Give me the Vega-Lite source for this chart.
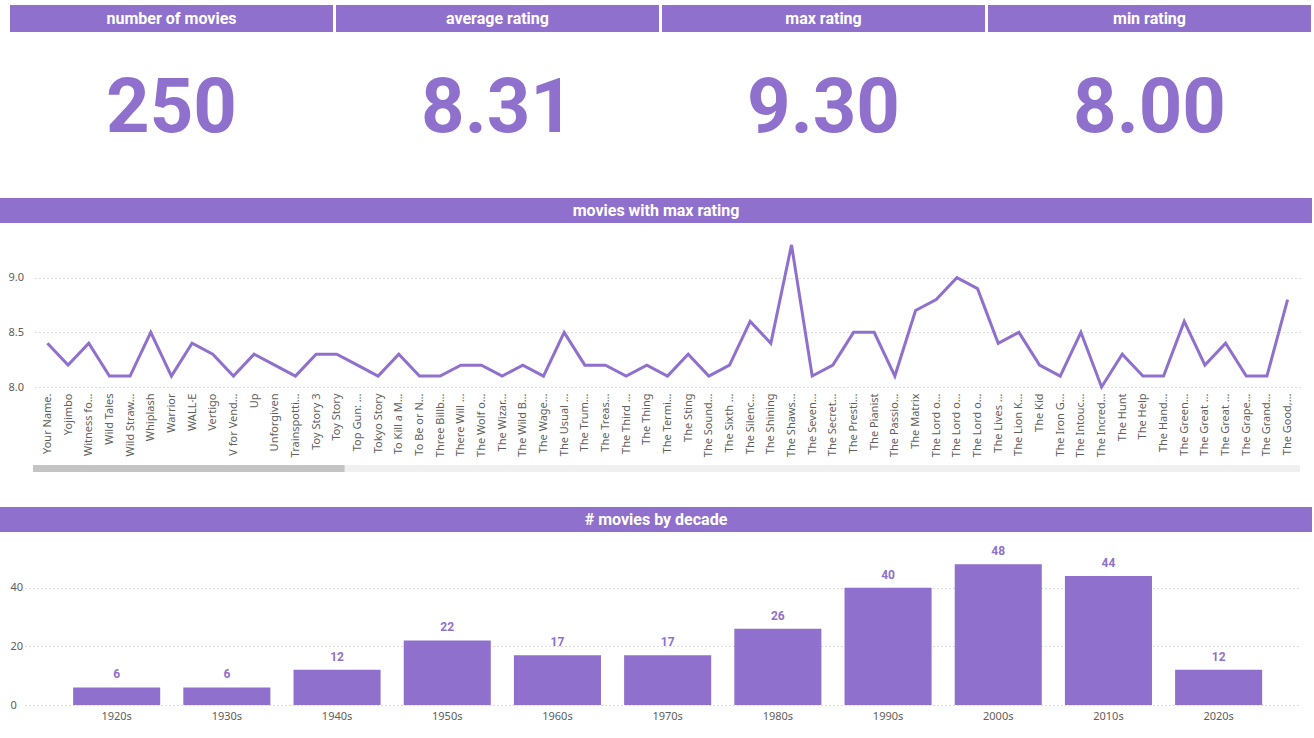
{
  "$schema": "https://vega.github.io/schema/vega-lite/v6.json",
  "background": "white",
  "padding": {"left": 0, "top": 5, "right": 0, "bottom": 0},
  "align": "none",
  "spacing": 0,
  "config": {
    "view": {"stroke": null},
    "font": "Noto Sans",
    "axis": {"labelColor": "#605E5C", "labelFontSize": 11, "ticks": false, "domain": false, "gridColor": "#BEBBB8", "gridDash": [1, 3]}
  },
  "datasets": {
    "kpi": [
      {"title": "number of movies", "value": 250},
      {"title": "average rating", "value": 8.31},
      {"title": "max rating", "value": 9.30},
      {"title": "min rating", "value": 8.00}
    ],
    "sections": [
      {"name": "movies with max rating"},
      {"name": "# movies by decade"}
    ],
    "scroll": [{"from": 0, "to": 15}],
    "movies": [
      {"title": "Your Name.", "rating": 8.4},
      {"title": "Yojimbo", "rating": 8.2},
      {"title": "Witness for the Prosecution", "rating": 8.4},
      {"title": "Wild Tales", "rating": 8.1},
      {"title": "Wild Strawberries", "rating": 8.1},
      {"title": "Whiplash", "rating": 8.5},
      {"title": "Warrior", "rating": 8.1},
      {"title": "WALL·E", "rating": 8.4},
      {"title": "Vertigo", "rating": 8.3},
      {"title": "V for Vendetta", "rating": 8.1},
      {"title": "Up", "rating": 8.3},
      {"title": "Unforgiven", "rating": 8.2},
      {"title": "Trainspotting", "rating": 8.1},
      {"title": "Toy Story 3", "rating": 8.3},
      {"title": "Toy Story", "rating": 8.3},
      {"title": "Top Gun: Maverick", "rating": 8.2},
      {"title": "Tokyo Story", "rating": 8.1},
      {"title": "To Kill a Mockingbird", "rating": 8.3},
      {"title": "To Be or Not to Be", "rating": 8.1},
      {"title": "Three Billboards Outside Ebbing, Missouri", "rating": 8.1},
      {"title": "There Will Be Blood", "rating": 8.2},
      {"title": "The Wolf of Wall Street", "rating": 8.2},
      {"title": "The Wizard of Oz", "rating": 8.1},
      {"title": "The Wild Bunch", "rating": 8.2},
      {"title": "The Wages of Fear", "rating": 8.1},
      {"title": "The Usual Suspects", "rating": 8.5},
      {"title": "The Truman Show", "rating": 8.2},
      {"title": "The Treasure of the Sierra Madre", "rating": 8.2},
      {"title": "The Third Man", "rating": 8.1},
      {"title": "The Thing", "rating": 8.2},
      {"title": "The Terminator", "rating": 8.1},
      {"title": "The Sting", "rating": 8.3},
      {"title": "The Sound of Music", "rating": 8.1},
      {"title": "The Sixth Sense", "rating": 8.2},
      {"title": "The Silence of the Lambs", "rating": 8.6},
      {"title": "The Shining", "rating": 8.4},
      {"title": "The Shawshank Redemption", "rating": 9.3},
      {"title": "The Seventh Seal", "rating": 8.1},
      {"title": "The Secret in Their Eyes", "rating": 8.2},
      {"title": "The Prestige", "rating": 8.5},
      {"title": "The Pianist", "rating": 8.5},
      {"title": "The Passion of Joan of Arc", "rating": 8.1},
      {"title": "The Matrix", "rating": 8.7},
      {"title": "The Lord of the Rings: The Two Towers", "rating": 8.8},
      {"title": "The Lord of the Rings: The Return of the King", "rating": 9.0},
      {"title": "The Lord of the Rings: The Fellowship of the Ring", "rating": 8.9},
      {"title": "The Lives of Others", "rating": 8.4},
      {"title": "The Lion King", "rating": 8.5},
      {"title": "The Kid", "rating": 8.2},
      {"title": "The Iron Giant", "rating": 8.1},
      {"title": "The Intouchables", "rating": 8.5},
      {"title": "The Incredibles", "rating": 8.0},
      {"title": "The Hunt", "rating": 8.3},
      {"title": "The Help", "rating": 8.1},
      {"title": "The Handmaiden", "rating": 8.1},
      {"title": "The Green Mile", "rating": 8.6},
      {"title": "The Great Escape", "rating": 8.2},
      {"title": "The Great Dictator", "rating": 8.4},
      {"title": "The Grapes of Wrath", "rating": 8.1},
      {"title": "The Grand Budapest Hotel", "rating": 8.1},
      {"title": "The Good, the Bad and the Ugly", "rating": 8.8}
    ],
    "decades": [
      {"decade": "1920s", "count": 6},
      {"decade": "1930s", "count": 6},
      {"decade": "1940s", "count": 12},
      {"decade": "1950s", "count": 22},
      {"decade": "1960s", "count": 17},
      {"decade": "1970s", "count": 17},
      {"decade": "1980s", "count": 26},
      {"decade": "1990s", "count": 40},
      {"decade": "2000s", "count": 48},
      {"decade": "2010s", "count": 44},
      {"decade": "2020s", "count": 12}
    ]
  },
  "vconcat": [
    {
      "spacing": 3,
      "hconcat": [
        {"width": 7, "height": 1, "view": {"fill": "white", "stroke": null}, "data": {"values": []}, "mark": "text"},
        {
          "spacing": 0,
          "vconcat": [
            {"width": 323, "height": 27, "view": {"fill": "#8F70CC", "stroke": null}, "data": {"name": "kpi"}, "transform": [{"filter": "datum.title == 'number of movies'"}],
             "mark": {"type": "text", "color": "white", "font": "Roboto", "fontWeight": "bold", "fontSize": 16}, "encoding": {"text": {"field": "title"}}},
            {"width": 323, "height": 166, "data": {"name": "kpi"}, "transform": [{"filter": "datum.title == 'number of movies'"}],
             "mark": {"type": "text", "color": "#8F70CC", "font": "Roboto", "fontWeight": "bold", "fontSize": 76, "dy": -6}, "encoding": {"text": {"field": "value", "type": "quantitative", "format": "d"}}}
          ]
        },
        {
          "spacing": 0,
          "vconcat": [
            {"width": 323, "height": 27, "view": {"fill": "#8F70CC", "stroke": null}, "data": {"name": "kpi"}, "transform": [{"filter": "datum.title == 'average rating'"}],
             "mark": {"type": "text", "color": "white", "font": "Roboto", "fontWeight": "bold", "fontSize": 16}, "encoding": {"text": {"field": "title"}}},
            {"width": 323, "height": 166, "data": {"name": "kpi"}, "transform": [{"filter": "datum.title == 'average rating'"}],
             "mark": {"type": "text", "color": "#8F70CC", "font": "Roboto", "fontWeight": "bold", "fontSize": 76, "dy": -6}, "encoding": {"text": {"field": "value", "type": "quantitative", "format": ".2f"}}}
          ]
        },
        {
          "spacing": 0,
          "vconcat": [
            {"width": 323, "height": 27, "view": {"fill": "#8F70CC", "stroke": null}, "data": {"name": "kpi"}, "transform": [{"filter": "datum.title == 'max rating'"}],
             "mark": {"type": "text", "color": "white", "font": "Roboto", "fontWeight": "bold", "fontSize": 16}, "encoding": {"text": {"field": "title"}}},
            {"width": 323, "height": 166, "data": {"name": "kpi"}, "transform": [{"filter": "datum.title == 'max rating'"}],
             "mark": {"type": "text", "color": "#8F70CC", "font": "Roboto", "fontWeight": "bold", "fontSize": 76, "dy": -6}, "encoding": {"text": {"field": "value", "type": "quantitative", "format": ".2f"}}}
          ]
        },
        {
          "spacing": 0,
          "vconcat": [
            {"width": 323, "height": 27, "view": {"fill": "#8F70CC", "stroke": null}, "data": {"name": "kpi"}, "transform": [{"filter": "datum.title == 'min rating'"}],
             "mark": {"type": "text", "color": "white", "font": "Roboto", "fontWeight": "bold", "fontSize": 16}, "encoding": {"text": {"field": "title"}}},
            {"width": 323, "height": 166, "data": {"name": "kpi"}, "transform": [{"filter": "datum.title == 'min rating'"}],
             "mark": {"type": "text", "color": "#8F70CC", "font": "Roboto", "fontWeight": "bold", "fontSize": 76, "dy": -6}, "encoding": {"text": {"field": "value", "type": "quantitative", "format": ".2f"}}}
          ]
        }
      ]
    },
    {"width": 1312, "height": 25, "view": {"fill": "#8F70CC", "stroke": null}, "data": {"name": "sections"}, "transform": [{"filter": "datum.name == 'movies with max rating'"}],
     "mark": {"type": "text", "color": "white", "font": "Roboto", "fontWeight": "bold", "fontSize": 16}, "encoding": {"text": {"field": "name"}}},
    {
      "spacing": 0,
      "hconcat": [
        {"width": 8, "height": 1, "view": {"fill": "white", "stroke": null}, "data": {"values": []}, "mark": "text"},
        {
          "width": 1265, "height": 164,
          "data": {"name": "movies"},
          "mark": {"type": "line", "color": "#8F70CC", "strokeWidth": 3},
          "encoding": {
            "x": {"field": "title", "type": "nominal", "sort": null, "scale": {"type": "point", "padding": 0.6},
                  "axis": {"title": null, "labelAngle": -90, "labelLimit": 64, "labelPadding": 6, "labelOverlap": false}},
            "y": {"field": "rating", "type": "quantitative", "scale": {"domain": [8, 9.5], "zero": false, "nice": false},
                  "axis": {"title": null, "values": [8, 8.5, 9], "format": ".1f", "labelAlign": "left", "labelPadding": 27}}
          }
        }
      ]
    },
    {"width": 10, "height": 8, "view": {"fill": "white", "stroke": null}, "data": {"values": []}, "mark": "text"},
    {
      "spacing": 0,
      "hconcat": [
        {"width": 33, "height": 1, "view": {"fill": "white", "stroke": null}, "data": {"values": []}, "mark": "text"},
        {
          "width": 1267, "height": 7, "view": {"fill": "#F0F0F0", "stroke": null},
          "data": {"name": "scroll"},
          "mark": {"type": "rect", "color": "#C4C4C4"},
          "encoding": {
            "x": {"field": "from", "type": "quantitative", "scale": {"domain": [0, 61], "nice": false, "zero": false}, "axis": null},
            "x2": {"field": "to"}
          }
        }
      ]
    },
    {"width": 10, "height": 35, "view": {"fill": "white", "stroke": null}, "data": {"values": []}, "mark": "text"},
    {"width": 1312, "height": 25, "view": {"fill": "#8F70CC", "stroke": null}, "data": {"name": "sections"}, "transform": [{"filter": "datum.name == '# movies by decade'"}],
     "mark": {"type": "text", "color": "white", "font": "Roboto", "fontWeight": "bold", "fontSize": 16}, "encoding": {"text": {"field": "name"}}},
    {
      "spacing": 0,
      "hconcat": [
        {"width": 10, "height": 1, "view": {"fill": "white", "stroke": null}, "data": {"values": []}, "mark": "text"},
        {
          "width": 1275, "height": 173,
          "data": {"name": "decades"},
          "encoding": {
            "x": {"field": "decade", "type": "ordinal", "scale": {"paddingInner": 0.21, "paddingOuter": 0.39, "align": 0.56},
                  "axis": {"title": null, "labelAngle": 0, "labelPadding": 5}},
            "y": {"field": "count", "type": "quantitative", "scale": {"domain": [0, 59], "nice": false},
                  "axis": {"title": null, "values": [0, 20, 40], "labelAlign": "left", "labelPadding": 15}}
          },
          "layer": [
            {"mark": {"type": "bar", "color": "#8F70CC"}},
            {"mark": {"type": "text", "color": "#8F70CC", "font": "Roboto", "fontWeight": "bold", "fontSize": 12, "baseline": "bottom", "dy": -6},
             "encoding": {"text": {"field": "count", "type": "quantitative"}}}
          ]
        }
      ]
    }
  ]
}
